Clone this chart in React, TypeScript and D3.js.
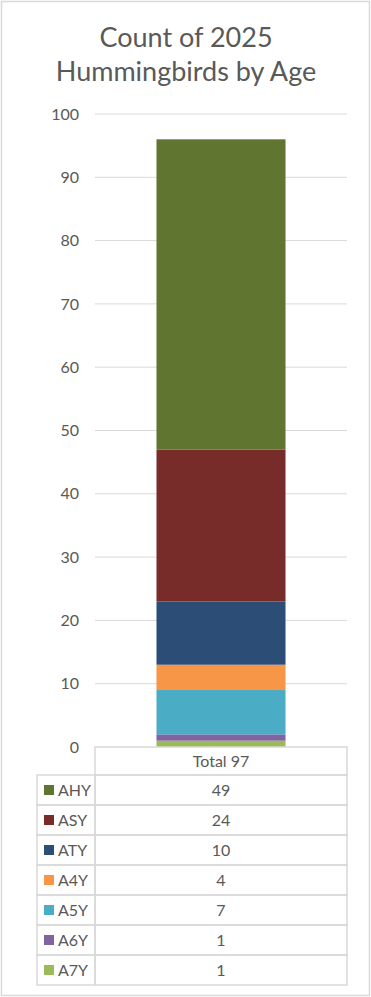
import React from 'react';
import * as d3 from 'd3';

// series listed top to bottom as in the data table
const seriesNames = ['AHY', 'ASY', 'ATY', 'A4Y', 'A5Y', 'A6Y', 'A7Y'];
const seriesValues = [49, 24, 10, 4, 7, 1, 1];
const seriesColors = ['#5f7530', '#772c2a', '#2c4d75', '#f79646', '#4bacc6', '#8064a2', '#9bbb59'];
const categories = ['Total 97'];
const yTicks = [0, 10, 20, 30, 40, 50, 60, 70, 80, 90, 100];
const titleLines = ['Count of 2025', 'Hummingbirds by Age'];

const W = 371;
const H = 997;
const FONT = 'Lato, "Open Sans", sans-serif';
const TXT = '#595959';
const GRID = '#d9d9d9';

const App = () => {
  const plot = { left: 95, right: 347, top: 114, bottom: 747 };
  const y = d3.scaleLinear().domain([0, 100]).range([plot.bottom, plot.top]);
  const x = d3.scaleBand<string>()
    .domain(categories)
    .range([plot.left, plot.right])
    .paddingInner(0.488)
    .paddingOuter(0.244);

  // stack from the bottom: A7Y first
  const row: Record<string, number | string> = { cat: categories[0] };
  seriesNames.forEach((n, i) => { row[n] = seriesValues[i]; });
  const stackKeys = [...seriesNames].reverse();
  const stacked = d3.stack<any>().keys(stackKeys)([row]);

  const rowH = 30;
  const headTop = 747;
  const headBottom = 775;
  const legLeft = 37;
  const rows = d3.scaleBand<string>()
    .domain(seriesNames)
    .range([headBottom, headBottom + rowH * seriesNames.length]);

  return (
    <svg width={W} height={H} style={{ position: 'absolute', left: 0, top: 0, display: 'block' }}>
      <rect x={0} y={0} width={W} height={H} fill="#fff" />
      <rect x={1.5} y={1.5} width={W - 3} height={H - 3} fill="none" stroke={GRID} strokeWidth={1.5} />

      {titleLines.map((t, i) => (
        <text key={t} x={186} y={47 + i * 34} textAnchor="middle" fontFamily={FONT} fontSize={27} fill={TXT}>{t}</text>
      ))}

      {yTicks.map(t => (
        <g key={t}>
          {t > 0 && <line x1={plot.left} x2={plot.right} y1={y(t)} y2={y(t)} stroke={GRID} strokeWidth={1} />}
          <text x={79} y={y(t)} dy="0.35em" textAnchor="end" fontFamily={FONT} fontSize={16} fill={TXT}>{t}</text>
        </g>
      ))}

      {stacked.map(s => {
        const i = seriesNames.indexOf(s.key);
        return s.map((d, j) => (
          <rect key={s.key + j} x={x(categories[j])} width={x.bandwidth()}
            y={y(d[1])} height={y(d[0]) - y(d[1])} fill={seriesColors[i]} />
        ));
      })}

      {/* data table */}
      <g fill="none" stroke={GRID} strokeWidth={1.5}>
        <rect x={plot.left} y={headTop} width={plot.right - plot.left} height={headBottom - headTop} />
        {seriesNames.map(n => (
          <g key={n}>
            <rect x={legLeft} y={rows(n)} width={plot.left - legLeft} height={rows.bandwidth()} />
            <rect x={plot.left} y={rows(n)} width={plot.right - plot.left} height={rows.bandwidth()} />
          </g>
        ))}
      </g>
      {categories.map(c => (
        <text key={c} x={(plot.left + plot.right) / 2} y={(headTop + headBottom) / 2} dy="0.35em"
          textAnchor="middle" fontFamily={FONT} fontSize={16} fill={TXT}>{c}</text>
      ))}
      {seriesNames.map((n, i) => {
        const cy = (rows(n) as number) + rows.bandwidth() / 2;
        return (
          <g key={n}>
            <rect x={44} y={cy - 5} width={10} height={10} fill={seriesColors[i]} />
            <text x={58} y={cy} dy="0.35em" fontFamily={FONT} fontSize={16} fill={TXT}>{n}</text>
            <text x={(plot.left + plot.right) / 2} y={cy} dy="0.35em" textAnchor="middle"
              fontFamily={FONT} fontSize={16} fill={TXT}>{seriesValues[i]}</text>
          </g>
        );
      })}
    </svg>
  );
};

export default App;
